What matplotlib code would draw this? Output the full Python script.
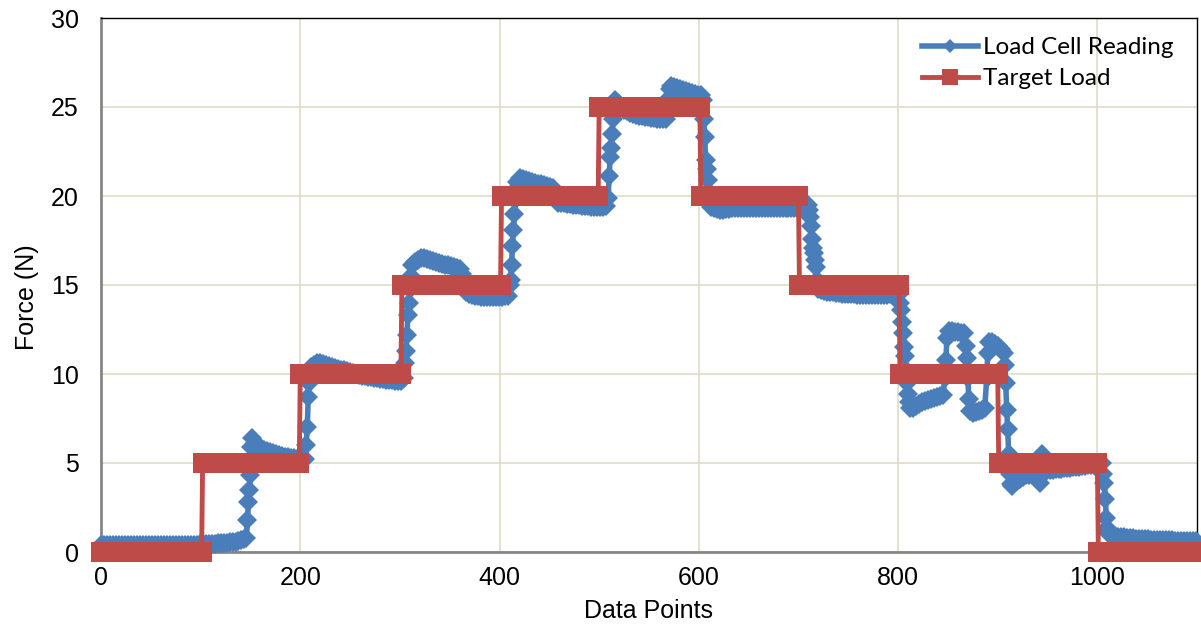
import numpy as np
import matplotlib.pyplot as plt

# Target load: level held between step edges (data point index)
target_levels = [0, 5, 10, 15, 20, 25, 20, 15, 10, 5, 0]
target_edges = [0, 102, 200, 302, 402, 500, 602, 701, 802, 901, 1001, 1101]

# Load cell reading: (first x, spacing, values)
load_segments = [
    (0, 3, [0.40, 0.40, 0.41, 0.40, 0.40, 0.41, 0.40, 0.40, 0.41, 0.40,
            0.40, 0.41, 0.40, 0.40, 0.41, 0.40, 0.40, 0.41, 0.40, 0.40,
            0.41, 0.40, 0.40, 0.41, 0.40, 0.40, 0.41, 0.40, 0.40, 0.41,
            0.41, 0.42, 0.42, 0.43, 0.43, 0.44, 0.45, 0.46, 0.47, 0.48,
            0.49, 0.50, 0.52, 0.54, 0.56, 0.58, 0.62, 0.66, 0.72]),
    (146, 1, [0.8, 1.8, 2.8, 3.5, 4.3, 5.9, 6.4]),
    (155, 3, [6.1, 5.95, 5.85, 5.75, 5.68, 5.62, 5.56, 5.5, 5.45, 5.4,
              5.36, 5.32, 5.29, 5.26, 5.23, 5.2, 5.18]),
    (205, 1, [5.2, 6.0, 7.0, 8.7, 9.5, 10.1, 10.4]),
    (214, 3, [10.5, 10.6, 10.6, 10.55, 10.5, 10.45, 10.4, 10.35, 10.3, 10.25,
              10.2, 10.15, 10.1, 10.05, 10.0, 9.95, 9.9, 9.87, 9.84, 9.81,
              9.78, 9.75, 9.72, 9.7, 9.68, 9.66, 9.64, 9.62, 9.6, 9.6]),
    (304, 1, [9.8, 10.6, 11.3, 12.2, 13.3, 14.0, 14.8, 15.5, 16.1]),
    (315, 3, [16.3, 16.4, 16.5, 16.5, 16.45, 16.4, 16.35, 16.3, 16.25, 16.2,
              16.15, 16.1, 16.05, 16.0, 15.95, 15.9]),
    (362, 1, [15.6, 15.2, 14.9, 14.7, 14.6]),
    (369, 3, [14.5, 14.45, 14.4, 14.4, 14.35, 14.35, 14.3, 14.3, 14.3, 14.3,
              14.3, 14.35, 14.4, 14.4]),
    (410, 1, [15.0, 15.3, 16.1, 17.2, 18.1, 19.0, 19.8, 20.4, 20.8]),
    (421, 3, [21.0, 20.95, 20.9, 20.85, 20.8, 20.75, 20.7, 20.65, 20.6, 20.55,
              20.5, 20.45]),
    (456, 1, [20.2, 19.9, 19.7, 19.6]),
    (462, 3, [19.6, 19.6, 19.55, 19.55, 19.5, 19.5, 19.5, 19.45, 19.45, 19.45,
              19.4, 19.4, 19.4, 19.4, 19.4, 19.45]),
    (509, 1, [19.9, 21.1, 22.2, 22.7, 23.5, 24.3, 25.0, 25.4]),
    (519, 3, [25.2, 25.0, 24.85, 24.75, 24.65, 24.6, 24.55, 24.5, 24.5, 24.45,
              24.45, 24.4, 24.4, 24.35, 24.35, 24.3, 24.3]),
    (569, 1, [24.8, 25.5, 26.0, 26.2]),
    (575, 3, [26.1, 26.05, 26.0, 25.95, 25.9, 25.85, 25.8, 25.75, 25.7, 25.65]),
    (604, 1, [25.4, 24.3, 23.3, 22.0, 21.5, 20.9, 20.2, 19.6, 19.4]),
    (615, 3, [19.3, 19.25, 19.2, 19.2, 19.25, 19.25, 19.3, 19.3, 19.3, 19.3,
              19.3, 19.3, 19.3, 19.3, 19.3, 19.3, 19.3, 19.3, 19.3, 19.3,
              19.3, 19.3, 19.3, 19.3, 19.3, 19.3, 19.3, 19.3, 19.3, 19.35,
              19.4, 19.45]),
    (710, 1, [19.5, 19.2, 18.8, 18.3, 17.6, 17.1, 16.8, 16.4, 16.0, 15.3,
              14.8]),
    (723, 3, [14.7, 14.65, 14.6, 14.6, 14.6, 14.55, 14.55, 14.5, 14.5, 14.5,
              14.5, 14.5, 14.45, 14.45, 14.45, 14.45, 14.45, 14.45, 14.45, 14.45,
              14.45, 14.45, 14.45, 14.5, 14.5, 14.5]),
    (801, 1, [14.5, 14.0, 13.6, 12.9, 12.3, 11.5, 11.0, 10.2, 9.5, 8.9,
              8.4, 8.1]),
    (815, 3, [8.1, 8.2, 8.3, 8.4, 8.5, 8.55, 8.6, 8.65, 8.7, 8.75, 8.8]),
    (847, 1, [9.8, 10.8, 12.0]),
    (851, 3, [12.4, 12.4, 12.35, 12.35, 12.3, 12.3]),
    (868, 1, [11.6, 10.9, 9.8, 8.6, 7.9]),
    (875, 3, [7.8, 7.85, 7.9, 8.0, 8.1]),
    (889, 1, [9.8, 11.2, 11.8]),
    (894, 3, [11.8, 11.7, 11.6, 11.4, 11.2]),
    (907, 1, [10.5, 9.5, 8.0, 6.9, 5.5, 4.4, 3.8, 3.7, 3.8, 3.9]),
    (919, 3, [4.0, 4.1, 4.2, 4.3, 4.35, 4.4, 4.4, 4.1]),
    (942, 1, [3.9, 4.6, 5.5, 5.3, 4.8]),
    (949, 3, [4.6, 4.6, 4.62, 4.64, 4.66, 4.68, 4.7, 4.72, 4.74, 4.76,
              4.78, 4.8, 4.82, 4.84, 4.86, 4.88, 4.9, 4.92, 4.95]),
    (1005, 1, [5.0, 4.4, 3.9, 3.0, 1.9, 1.35, 1.1, 1.0]),
    (1015, 3, [0.95, 0.9, 0.87, 0.84, 0.82, 0.8, 0.78, 0.76, 0.75, 0.74,
               0.73, 0.72, 0.71, 0.7, 0.69, 0.68, 0.67, 0.66, 0.66, 0.65,
               0.65, 0.64, 0.64, 0.63, 0.63, 0.62, 0.62, 0.61, 0.6]),
]

load_x = []
load_y = []
for x0, dx, vals in load_segments:
    for i, v in enumerate(vals):
        load_x.append(x0 + i * dx)
        load_y.append(v)

target_x = []
target_y = []
for lev, a, b in zip(target_levels, target_edges[:-1], target_edges[1:]):
    xs = np.arange(a, b)
    target_x.extend(xs)
    target_y.extend([lev] * len(xs))

plt.rcParams['font.family'] = ['Liberation Sans', 'DejaVu Sans']

fig = plt.figure(figsize=(12.01, 6.32), dpi=100)
ax = fig.add_axes([101 / 1201, 80 / 632, 1096 / 1201, 534 / 632])

ax.plot(load_x, load_y, color='#4a7ebb', lw=4, marker='D', ms=10.5, mew=0,
        label='Load Cell Reading', clip_on=False, zorder=3)
ax.plot(target_x, target_y, color='#be4b48', lw=3.5, marker='s', ms=14.5, mew=0,
        label='Target Load', clip_on=False, zorder=4)

ax.set_xlim(0, 1100)
ax.set_ylim(0, 30)
ax.set_xticks(range(0, 1001, 200))
ax.set_yticks(range(0, 31, 5))
ax.grid(True, color='#ddd9c3', lw=1.1, zorder=0)
ax.set_axisbelow(True)
ax.tick_params(length=0, labelsize=18)
ax.tick_params(axis='x', pad=10)
ax.tick_params(axis='y', pad=16)

for s in ['left', 'bottom']:
    ax.spines[s].set_color('#868686')
    ax.spines[s].set_linewidth(2)
for s in ['top', 'right']:
    ax.spines[s].set_color('black')
    ax.spines[s].set_linewidth(1)

ax.set_xlabel('Data Points', fontsize=18)
ax.set_ylabel('Force (N)', fontsize=18)
ax.xaxis.set_label_coords(0.5, -0.088)
ax.yaxis.set_label_coords(-0.057, 0.478)

leg = ax.legend(loc='upper left', bbox_to_anchor=(922 / 1201, 595 / 632),
                bbox_transform=fig.transFigure, frameon=False, borderpad=0,
                borderaxespad=0, handlelength=2.3, handletextpad=0.2,
                labelspacing=0.42, prop={'family': 'Lato', 'size': 17.5})
leg.legend_handles[0].set_markersize(7)
leg.legend_handles[1].set_markersize(11)

fig.savefig('out.png', dpi=100)
